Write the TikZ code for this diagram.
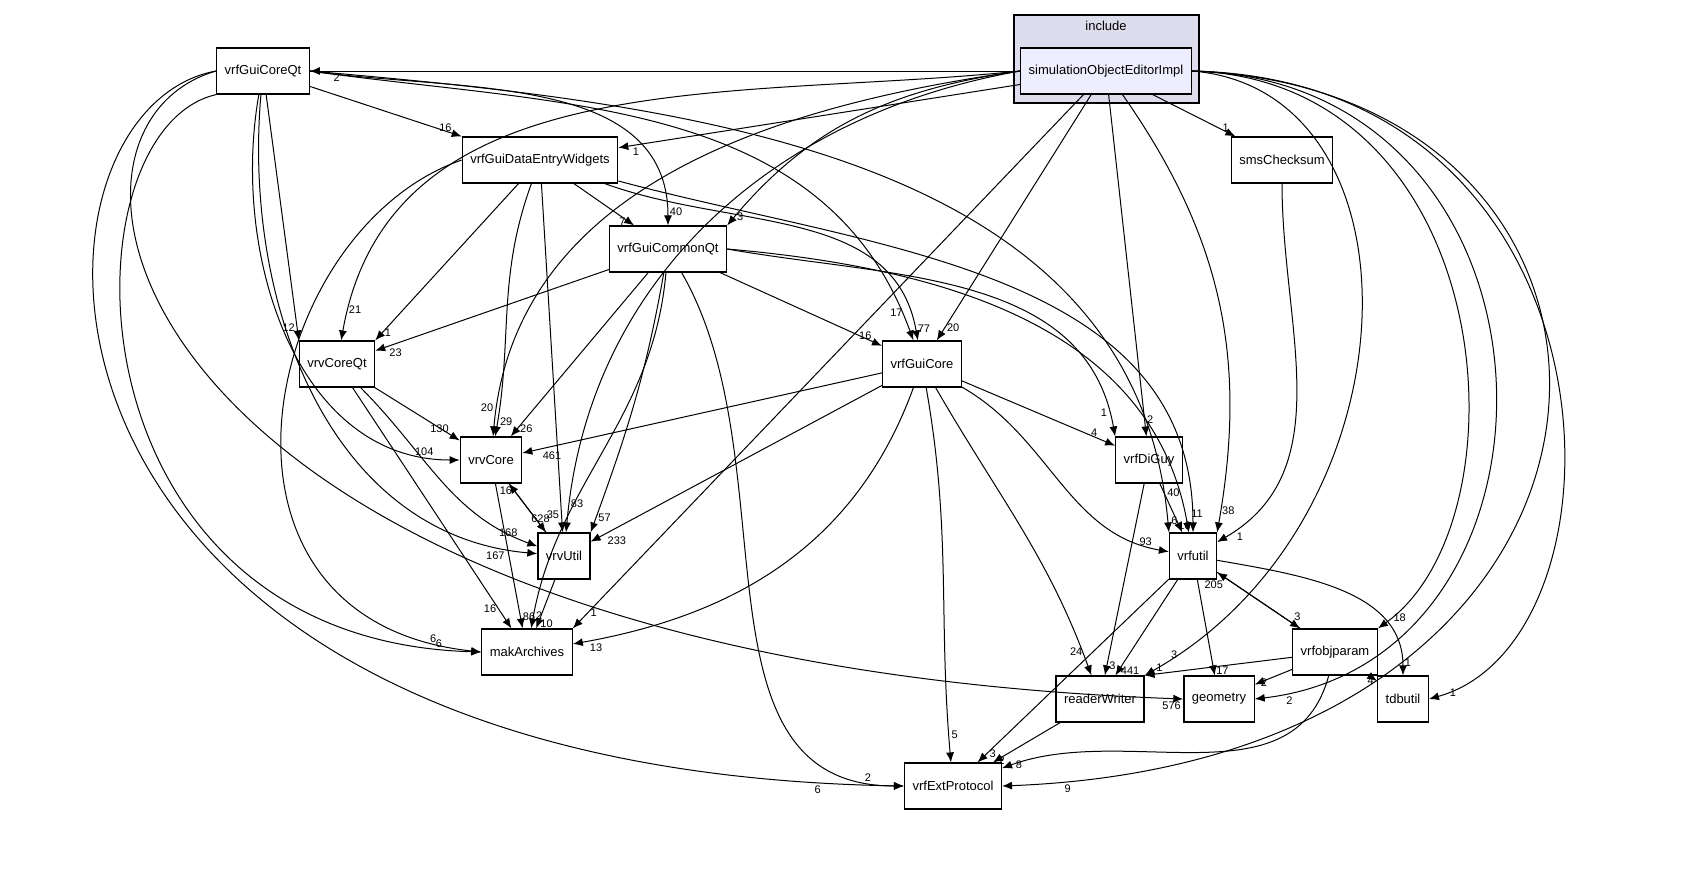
\documentclass[tikz,border=0pt]{standalone}
\usepackage{fontspec}
\setmainfont{Liberation Sans}
\usetikzlibrary{arrows.meta}
\definecolor{clusterc}{rgb}{0.867,0.867,0.933}
\definecolor{mainc}{rgb}{0.933,0.933,1.0}

\begin{document}
\begin{tikzpicture}[x=0.5pt, y=-0.5pt,
	dir/.style={rectangle, draw, line width=0.6pt, fill=white, inner xsep=4pt, minimum height=23pt, font=\fontsize{6.5}{7}\selectfont},
	dep/.style={-{Latex[length=5pt,width=4pt]}, line width=0.5pt},
	lbl/.style={font=\fontsize{5.5}{6}\selectfont, inner sep=1pt},]
	\useasboundingbox (0,0) rectangle (1685,873);
	% include folder
	\draw[line width=0.6pt, fill=clusterc] (1014,15) rectangle (1199,103);
	\node[font=\fontsize{6.5}{7}\selectfont] (inclbl) at (1106,26) {include};
	\node[dir, fill=mainc, minimum width=83pt] (simimpl) at (1106,71) {simulationObjectEditorImpl};

	\node[dir] (guicoreqt) at (263,71) {vrfGuiCoreQt};
	\node[dir] (dataentry) at (540,160) {vrfGuiDataEntryWidgets};
	\node[dir] (checksum) at (1282,160) {smsChecksum};
	\node[dir] (commonqt) at (668,249) {vrfGuiCommonQt};
	\node[dir] (vrvcoreqt) at (337,364) {vrvCoreQt};
	\node[dir] (guicore) at (922,364) {vrfGuiCore};
	\node[dir] (vrvcore) at (491,460) {vrvCore};
	\node[dir] (diguy) at (1149,460) {vrfDiGuy};
	\node[dir] (vrvutil) at (564,556) {vrvUtil};
	\node[dir] (vrfutil) at (1193,556) {vrfutil};
	\node[dir] (archives) at (527,652) {makArchives};
	\node[dir] (objparam) at (1335,652) {vrfobjparam};
	\node[dir] (readerw) at (1100,699) {readerWriter};
	\node[dir] (geometry) at (1219,699) {geometry};
	\node[dir] (tdbutil) at (1403,699) {tdbutil};
	\node[dir] (extproto) at (953,786) {vrfExtProtocol};

	% from simulationObjectEditorImpl
	\draw[dep] (simimpl) -- node[lbl, pos=0.97, below right] {2} (guicoreqt);
	\draw[dep] (simimpl) -- node[lbl, pos=0.97, below right] {1} (dataentry);
	\draw[dep] (simimpl) -- node[lbl, pos=0.95, above left] {1} (checksum);
	\draw[dep] (simimpl.west) to[out=188, in=50] node[lbl, pos=0.97, right] {3} (commonqt.north east);
	\draw[dep] (simimpl.west) to[out=186, in=80] node[lbl, pos=0.97, above right] {21} (vrvcoreqt);
	\draw[dep] (simimpl) -- node[lbl, pos=0.95, right] {20} (guicore);
	\draw[dep] (simimpl.west) to[out=188, in=85] node[lbl, pos=0.97, above left] {20} (vrvcore);
	\draw[dep] (simimpl) -- node[lbl, pos=0.95, right] {2} (diguy);
	\draw[dep] (simimpl.west) to[out=190, in=85] node[lbl, pos=0.97, above right] {83} (vrvutil);
	\draw[dep] (simimpl) to[out=-55, in=80] node[lbl, pos=0.97, above right] {38} (vrfutil.north east);
	\draw[dep] (simimpl) -- node[lbl, pos=0.97, right] {1} (archives.north east);
	\draw[dep] (simimpl.east) .. controls (1430,90) and (1420,520) .. node[lbl, pos=0.97, above right] {3} (readerw.north east);
	\draw[dep] (simimpl.east) .. controls (1500,80) and (1530,520) .. node[lbl, pos=0.97, right] {18} (objparam.north east);
	\draw[dep] (simimpl.east) .. controls (1580,80) and (1590,660) .. node[lbl, pos=0.97, below right] {2} (geometry.east);
	\draw[dep] (simimpl.east) .. controls (1630,80) and (1640,640) .. node[lbl, pos=0.97, right] {1} (tdbutil.east);
	\draw[dep] (simimpl.east) .. controls (1700,90) and (1690,760) .. node[lbl, pos=0.97, below right] {9} (extproto.east);

	% from vrfGuiCoreQt
	\draw[dep] (guicoreqt) -- node[lbl, pos=0.95, above left] {16} (dataentry.north west);
	\draw[dep] (guicoreqt.east) to[out=-8, in=90] node[lbl, pos=0.97, right] {40} (commonqt);
	\draw[dep] (guicoreqt.east) to[out=-8, in=110] node[lbl, pos=0.97, above left] {17} (guicore);
	\draw[dep] (guicoreqt.east) to[out=-5, in=95] node[lbl, pos=0.97, above right] {40} (vrfutil.north west);
	\draw[dep] (guicoreqt) -- node[lbl, pos=0.95, left] {12} (vrvcoreqt.north west);
	\draw[dep] (guicoreqt) to[out=-100, in=180] node[lbl, pos=0.95, above left] {104} (vrvcore);
	\draw[dep] (guicoreqt) to[out=-95, in=175] node[lbl, pos=0.95, below left] {167} (vrvutil);
	\draw[dep] (guicoreqt.south west) .. controls (60,130) and (60,640) .. node[lbl, pos=0.97, above left] {6} (archives.west);
	\draw[dep] (guicoreqt.west) .. controls (10,130) and (120,660) .. node[lbl, pos=1, anchor=north east] {576} (geometry.west);
	\draw[dep] (guicoreqt.west) .. controls (0,110) and (-20,770) .. node[lbl, pos=0.97, below left] {6} (extproto.west);

	% from vrfGuiDataEntryWidgets
	\draw[dep] (dataentry) -- node[lbl, pos=0.95, right] {1} (vrvcoreqt.north east);
	\draw[dep] (dataentry) to[out=-110, in=80] node[lbl, pos=0.95, right] {29} (vrvcore);
	\draw[dep] (dataentry) -- node[lbl, pos=0.95, left] {35} (vrvutil);
	\draw[dep] (dataentry) -- node[lbl, pos=0.9, left] {7} (commonqt);
	\draw[dep] (dataentry) to[out=-20, in=100] node[lbl, pos=0.97, right] {77} (guicore);
	\draw[dep] (dataentry) to[out=-15, in=90] node[lbl, pos=1, anchor=south east] {16} (vrfutil);
	\draw[dep] (dataentry.west) .. controls (260,230) and (180,620) .. node[lbl, pos=0.95, above left] {6} (archives.west);

	% from vrfGuiCommonQt
	\draw[dep] (commonqt) -- node[lbl, pos=0.95, below right] {23} (vrvcoreqt);
	\draw[dep] (commonqt) -- node[lbl, pos=0.95, right] {26} (vrvcore);
	\draw[dep] (commonqt) to[out=-100, in=70] node[lbl, pos=0.95, right] {57} (vrvutil.north east);
	\draw[dep] (commonqt) to[out=-95, in=80] node[lbl, pos=0.97, right] {2} (archives);
	\draw[dep] (commonqt) -- node[lbl, pos=0.95, above left] {16} (guicore);
	\draw[dep] (commonqt.east) to[out=-10, in=100] node[lbl, pos=0.95, left] {1} (diguy.north west);
	\draw[dep] (commonqt.east) to[out=-5, in=100] node[lbl, pos=1, anchor=south west, yshift=6pt] {11} (vrfutil);
	\draw[dep] (commonqt) to[out=-60, in=180] node[lbl, pos=0.95, above left] {2} (extproto);

	% lower levels
	\draw[dep] (vrvcoreqt) -- node[lbl, pos=0.9, above left] {130} (vrvcore);
	\draw[dep] (vrvcoreqt) to[out=-45, in=160] node[lbl, pos=0.93, above left] {168} (vrvutil);
	\draw[dep] (vrvcoreqt) -- node[lbl, pos=0.92, left] {16} (archives);
	\draw[dep] (guicore) -- node[lbl, pos=0.95, below right] {461} (vrvcore);
	\draw[dep] (guicore) -- node[lbl, pos=0.95, below right] {233} (vrvutil);
	\draw[dep] (guicore) to[out=-110, in=10] node[lbl, pos=0.97, below right] {13} (archives);
	\draw[dep] (guicore) -- node[lbl, pos=0.9, above left] {4} (diguy);
	\draw[dep] (guicore) to[out=-30, in=170] node[lbl, pos=0.95, above left] {93} (vrfutil);
	\draw[dep] (guicore) to[out=-60, in=110] node[lbl, pos=0.95, above left] {24} (readerw);
	\draw[dep] (guicore) to[out=-80, in=95] node[lbl, pos=0.95, above right] {5} (extproto);
	\draw[dep] (vrvcore) -- node[lbl, pos=0.85, above] {628} (vrvutil);
	\draw[dep] (vrvutil) -- node[lbl, pos=0.85, left] {16} (vrvcore);
	\draw[dep] (vrvcore) -- node[lbl, pos=0.92, right] {86} (archives);
	\draw[dep] (vrvutil) -- node[lbl, pos=0.9, right] {10} (archives);
	\draw[dep] (diguy) -- node[lbl, pos=0.9, above left] {6} (vrfutil);
	\draw[dep] (diguy) -- node[lbl, pos=0.95, right] {3} (readerw);
	\draw[dep] (checksum) to[out=-90, in=30] node[lbl, pos=0.95, below right] {1} (vrfutil);
	\draw[dep] (vrfutil) -- node[lbl, pos=0.9, above right] {3} (objparam);
	\draw[dep] (objparam) -- node[lbl, pos=0.9, below left] {205} (vrfutil);
	\draw[dep] (vrfutil) -- node[lbl, pos=0.95, right] {441} (readerw);
	\draw[dep] (vrfutil) -- node[lbl, pos=0.95, right] {17} (geometry);
	\draw[dep] (vrfutil) to[out=-10, in=90] node[lbl, pos=0.95, right] {1} (tdbutil);
	\draw[dep] (vrfutil) -- node[lbl, pos=0.95, right] {3} (extproto);
	\draw[dep] (objparam) -- node[lbl, pos=0.9, above] {1} (readerw.north east);
	\draw[dep] (objparam) -- node[lbl, pos=0.9, right] {2} (geometry);
	\draw[dep] (objparam) -- node[lbl, pos=0.9, left] {4} (tdbutil);
	\draw[dep] (objparam) to[out=-105, in=20] node[lbl, pos=0.97, right] {8} (extproto);
	\draw[dep] (readerw) -- node[lbl, pos=0.95, right] {2} (extproto);
\end{tikzpicture}
\end{document}
